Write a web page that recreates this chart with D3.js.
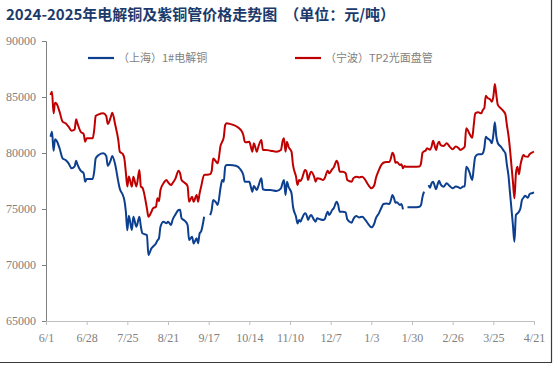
<!DOCTYPE html>
<html>
<head>
<meta charset="utf-8">
<script src="https://cdn.jsdelivr.net/npm/d3@7"></script>
<style>
  body { margin: 0; background: #fff; }
  svg { display: block; }
  .tick-label { font-family: "Liberation Serif", "DejaVu Serif", serif; font-size: 12px; fill: #808080; }
  .legend-text { font-family: "Noto Sans CJK SC", sans-serif; font-size: 11px; fill: #7f7f7f; }
  .title { font-family: "Noto Sans CJK SC", sans-serif; font-size: 15px; font-weight: 700; fill: #1b3a6b; white-space: pre; }
</style>
</head>
<body>
<div id="chart"></div>
<script>
// dates (business days) shared by both series; null = no quote that day
const dates = [
  "2024-06-04","2024-06-05","2024-06-06","2024-06-07","2024-06-08","2024-06-10","2024-06-12","2024-06-14","2024-06-16","2024-06-18",
  "2024-06-20","2024-06-21","2024-06-22","2024-06-24","2024-06-26","2024-06-27","2024-06-28","2024-07-02","2024-07-03","2024-07-04",
  "2024-07-06","2024-07-09","2024-07-11","2024-07-12","2024-07-14","2024-07-15","2024-07-17","2024-07-19","2024-07-20","2024-07-22",
  "2024-07-23","2024-07-24","2024-07-25","2024-07-26","2024-07-28","2024-07-29","2024-07-31","2024-08-02","2024-08-03","2024-08-04",
  "2024-08-07","2024-08-08","2024-08-10","2024-08-11","2024-08-13","2024-08-14","2024-08-15","2024-08-16","2024-08-18","2024-08-20",
  "2024-08-21","2024-08-23","2024-08-24","2024-08-26","2024-08-28","2024-08-29","2024-08-30","2024-09-01","2024-09-03","2024-09-04",
  "2024-09-06","2024-09-07","2024-09-09","2024-09-10","2024-09-11","2024-09-12","2024-09-14","2024-09-15","2024-09-17","2024-09-18",
  "2024-09-19","2024-09-20","2024-09-22","2024-09-23","2024-09-25","2024-09-26","2024-09-27","2024-09-28","2024-09-29","2024-10-01",
  "2024-10-05","2024-10-08","2024-10-10","2024-10-11","2024-10-12","2024-10-14","2024-10-15","2024-10-16","2024-10-17","2024-10-19",
  "2024-10-20","2024-10-22","2024-10-23","2024-10-25","2024-10-28","2024-11-01","2024-11-04","2024-11-05","2024-11-06","2024-11-07",
  "2024-11-08","2024-11-09","2024-11-11","2024-11-12","2024-11-14","2024-11-15","2024-11-16","2024-11-17","2024-11-18","2024-11-20",
  "2024-11-21","2024-11-22","2024-11-23","2024-11-24","2024-11-26","2024-11-27","2024-11-28","2024-11-30","2024-12-02","2024-12-03",
  "2024-12-05","2024-12-06","2024-12-08","2024-12-09","2024-12-11","2024-12-12","2024-12-13","2024-12-15","2024-12-17","2024-12-18",
  "2024-12-21","2024-12-22","2024-12-24","2024-12-26","2024-12-28","2024-12-30","2025-01-01","2025-01-03","2025-01-05","2025-01-06",
  "2025-01-08","2025-01-10","2025-01-11","2025-01-13","2025-01-15","2025-01-16","2025-01-17","2025-01-18","2025-01-19","2025-01-20",
  "2025-01-22","2025-01-23","2025-01-24","2025-01-25","2025-01-26","2025-01-27","2025-01-31","2025-02-04","2025-02-05","2025-02-06",
  "2025-02-07","2025-02-08","2025-02-09","2025-02-10","2025-02-11","2025-02-12","2025-02-13","2025-02-15","2025-02-16","2025-02-17",
  "2025-02-18","2025-02-20","2025-02-22","2025-02-24","2025-02-26","2025-02-28","2025-03-02","2025-03-03","2025-03-05","2025-03-06",
  "2025-03-07","2025-03-08","2025-03-09","2025-03-11","2025-03-12","2025-03-13","2025-03-15","2025-03-17","2025-03-18","2025-03-19",
  "2025-03-20","2025-03-21","2025-03-23","2025-03-24","2025-03-25","2025-03-26","2025-03-27","2025-03-28","2025-03-30","2025-04-01",
  "2025-04-02","2025-04-03","2025-04-04","2025-04-05","2025-04-06","2025-04-07","2025-04-08","2025-04-09","2025-04-10","2025-04-11",
  "2025-04-12","2025-04-13","2025-04-14","2025-04-15","2025-04-17","2025-04-18","2025-04-20","2025-04-21"
];

// （上海）1#电解铜
const cathode = [
  81450,81900,80200,81220,81100,80420,79520,79370,79080,78630,
  78800,79310,78930,78420,78200,77440,77680,77680,78330,79520,
  79820,79970,79730,78870,79370,79730,78930,77440,76800,76250,
  75800,74800,73100,74400,73120,74310,73420,74310,73420,72830,
  72680,70890,71490,71630,71930,72200,72380,73420,73870,73720,
  73870,73570,74020,74520,74910,74940,74170,73960,73570,72230,
  72530,71930,72380,71930,72830,73000,74310,null,null,74460,
  74900,75800,75560,75360,76990,77590,77440,78780,78930,78930,
  78860,78550,78040,77440,77440,77440,76990,76550,77050,76700,
  77050,77740,76760,76700,76700,76610,76850,77300,77590,76250,
  77440,76990,76400,75200,74310,73700,74020,73870,74170,74610,
  74460,74020,74310,74460,74020,73870,74170,74080,74020,74080,
  74760,74460,74910,75060,75650,75360,74760,74760,74700,74080,
  73780,74080,74370,74250,74310,74020,73660,73360,73720,74170,
  74610,75200,75450,75500,75450,75800,76250,76000,75560,75600,
  75360,75450,74970,null,null,75150,75150,75200,75360,76100,
  76550,null,null,77140,76900,77300,77440,76760,77200,77530,
  77200,76990,77300,77050,76850,77000,76930,76850,77000,77000,
  78780,78630,78330,77590,78700,79670,79880,79880,79970,80420,
  81460,81310,81100,80870,81610,82740,81460,80870,80570,80180,
  79970,78930,78040,76550,75060,73570,72080,74460,74600,74760,
  75060,75800,76000,76190,76010,76310,76430,76490
];

// （宁波）TP2光面盘管
const tube = [
  85180,85470,83540,84490,84400,83690,82800,82650,82350,81990,
  82100,83010,82600,81900,81700,81010,81310,81310,82050,83300,
  83450,83540,83300,82590,83200,83600,82500,81160,80120,79910,
  79520,78300,77000,77900,76990,77890,77000,78480,76990,76900,
  75060,74310,74760,75060,75200,75950,75700,76700,77300,77590,
  77400,77140,77300,77740,78420,78200,77590,77350,77050,75650,
  76100,75650,76250,75650,76400,76990,78040,78060,78080,78120,
  78400,79520,79220,79080,80720,81010,81400,82500,82650,82600,
  82410,82110,81610,81010,80950,81010,80560,80120,80870,80120,
  80560,81160,80270,80270,80210,80120,80270,81010,81310,80120,
  81010,80560,80120,78930,77890,77140,77590,77500,77740,78480,
  78330,77590,78040,78330,77890,77440,77740,77700,77590,77740,
  78420,78190,78550,78700,79310,79000,78330,78330,78190,77590,
  77440,77740,77890,77820,77890,77590,77140,76850,77140,77740,
  78480,79000,79130,79200,79200,79520,80030,79800,79130,79200,
  78930,79000,78630,78840,78780,78780,78780,78800,79080,80030,
  80150,80210,80420,80350,80300,80570,81100,80270,80800,81010,
  80700,80630,80870,80570,80330,80570,80420,80270,80420,80570,
  82200,82050,81760,81370,82500,83540,83630,83540,83840,84000,
  85120,84940,84760,84580,85030,86160,85180,84290,83990,83690,
  83460,82500,81610,80420,78930,77440,75950,78190,78780,78100,
  78930,79500,79820,79700,79670,79880,80060,80120
];

const seriesNames = ["（上海）1#电解铜", "（宁波）TP2光面盘管"];
const seriesColors = ["#0d3f8f", "#c00000"];
const yTicks = [65000, 70000, 75000, 80000, 85000, 90000];
const xTickLabels = ["6/1","6/28","7/25","8/21","9/17","10/14","11/10","12/7","1/3","1/30","2/26","3/25","4/21"];
const xStart = "2024-06-01";
const xEnd = "2025-04-21";
const title = "2024-2025年电解铜及紫铜管价格走势图  （单位：元/吨）";

const WIDTH = 554;
const HEIGHT = 365;
const MARGIN_LEFT = 46;
const MARGIN_RIGHT = 20;
const MARGIN_TOP = 41;
const MARGIN_BOTTOM = 44;

const parse = d3.timeParse("%Y-%m-%d");

const svg = d3.select("#chart").append("svg")
  .attr("width", WIDTH)
  .attr("height", HEIGHT);

// frame edge, right and bottom only
svg.append("path")
  .attr("d", `M${WIDTH - 2.5},0V${HEIGHT - 2.5}H0`)
  .attr("fill", "none")
  .attr("stroke", "#3a3a3a")
  .attr("stroke-width", 1.2);

const x = d3.scaleTime()
  .domain([parse(xStart), parse(xEnd)])
  .range([MARGIN_LEFT, WIDTH - MARGIN_RIGHT]);

const y = d3.scaleLinear()
  .domain([65000, 90000])
  .range([HEIGHT - MARGIN_BOTTOM, MARGIN_TOP]);

// title
svg.append("text")
  .attr("class", "title")
  .attr("x", 6)
  .attr("y", 20)
  .text(title);

// y axis
const $yAxis = svg.append("g")
  .attr("transform", `translate(${MARGIN_LEFT},0)`)
  .call(d3.axisLeft(y).tickValues(yTicks).tickSize(4).tickPadding(6).tickFormat(d3.format("d")));
$yAxis.select(".domain").attr("stroke", "#808080");
$yAxis.selectAll(".tick line").attr("stroke", "#808080");
$yAxis.selectAll(".tick text").attr("class", "tick-label").attr("fill", null);

// x axis, evenly spaced ticks every 27 days
const xTickDates = xTickLabels.map((d, i) => d3.timeDay.offset(parse(xStart), i * 27));
const $xAxis = svg.append("g")
  .attr("transform", `translate(0,${HEIGHT - MARGIN_BOTTOM})`)
  .call(d3.axisBottom(x).tickValues(xTickDates).tickSize(4).tickPadding(8)
    .tickFormat((d, i) => xTickLabels[i]));
$xAxis.select(".domain").attr("stroke", "#bfbfbf");
$xAxis.selectAll(".tick line").attr("stroke", "#bfbfbf");
$xAxis.selectAll(".tick text").attr("class", "tick-label").attr("fill", null);

// lines
[cathode, tube].forEach((values, i) => {
  const pts = dates.map((d, j) => ({ date: parse(d), value: values[j] }));
  const line = d3.line()
    .defined(d => d.value !== null)
    .x(d => x(d.date))
    .y(d => y(d.value))
    .curve(d3.curveMonotoneX);
  svg.append("path")
    .datum(pts)
    .attr("fill", "none")
    .attr("stroke", seriesColors[i])
    .attr("stroke-width", 2)
    .attr("stroke-linejoin", "round")
    .attr("d", line);
});

// legend
const legendX = [88, 295];
seriesNames.forEach((name, i) => {
  const g = svg.append("g").attr("transform", `translate(${legendX[i]},58)`);
  g.append("line")
    .attr("x1", 0).attr("x2", 26)
    .attr("stroke", seriesColors[i])
    .attr("stroke-width", 2.2);
  g.append("text")
    .attr("class", "legend-text")
    .attr("x", 30)
    .attr("dy", "0.35em")
    .text(name);
});
</script>
</body>
</html>
